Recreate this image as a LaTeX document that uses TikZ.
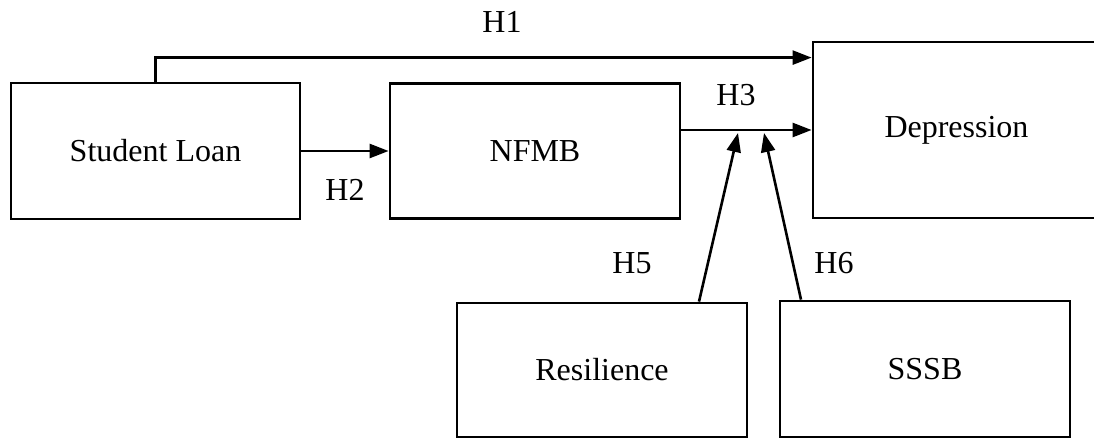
\documentclass[tikz,border=0pt]{standalone}
\usepackage{fontspec}
\setmainfont{Liberation Serif}
\usetikzlibrary{arrows.meta}
\begin{document}
\begin{tikzpicture}[x=1pt,y=-1pt,
  box/.style={draw,line width=2.8pt,minimum width=290pt,inner sep=0pt,font=\fontsize{32}{36}\selectfont},
  lab/.style={font=\fontsize{32}{36}\selectfont,inner sep=0pt},
  arr/.style={line width=2.6pt,-{Triangle[length=19pt,width=14pt]}}]
\useasboundingbox (0,0) rectangle (1094,438);
\node[box,minimum width=289pt,minimum height=136pt] (sl) at (155.5,151) {Student Loan};
\node[box,minimum height=135pt] (nf) at (535,151) {NFMB};
\node[box,minimum width=287pt,minimum height=176pt] (dep) at (956.5,130) {Depression};
\node[box,minimum height=134pt] (res) at (602,370) {Resilience};
\node[box,minimum height=136pt] (sssb) at (925,369) {SSSB};
\coordinate (t5) at (738,133);
\coordinate (t6) at (764,133);
\draw[arr] (sl.north) |- ([yshift=-17pt]dep.north west);
\draw[arr] (sl.east) -- (nf.west);
\draw[arr] (nf.east |- dep.west) -- (dep.west);
\draw[arr] ([xshift=97pt]res.north) -- (t5);
\draw[arr] ([xshift=-124pt]sssb.north) -- (t6);
\node[lab] (h1) at (502,22) {H1};
\node[lab] (h2) at (345,190) {H2};
\node[lab] (h3) at (736,95) {H3};
\node[lab] (h5) at (632,263) {H5};
\node[lab] (h6) at (834,263) {H6};
\end{tikzpicture}
\end{document}
